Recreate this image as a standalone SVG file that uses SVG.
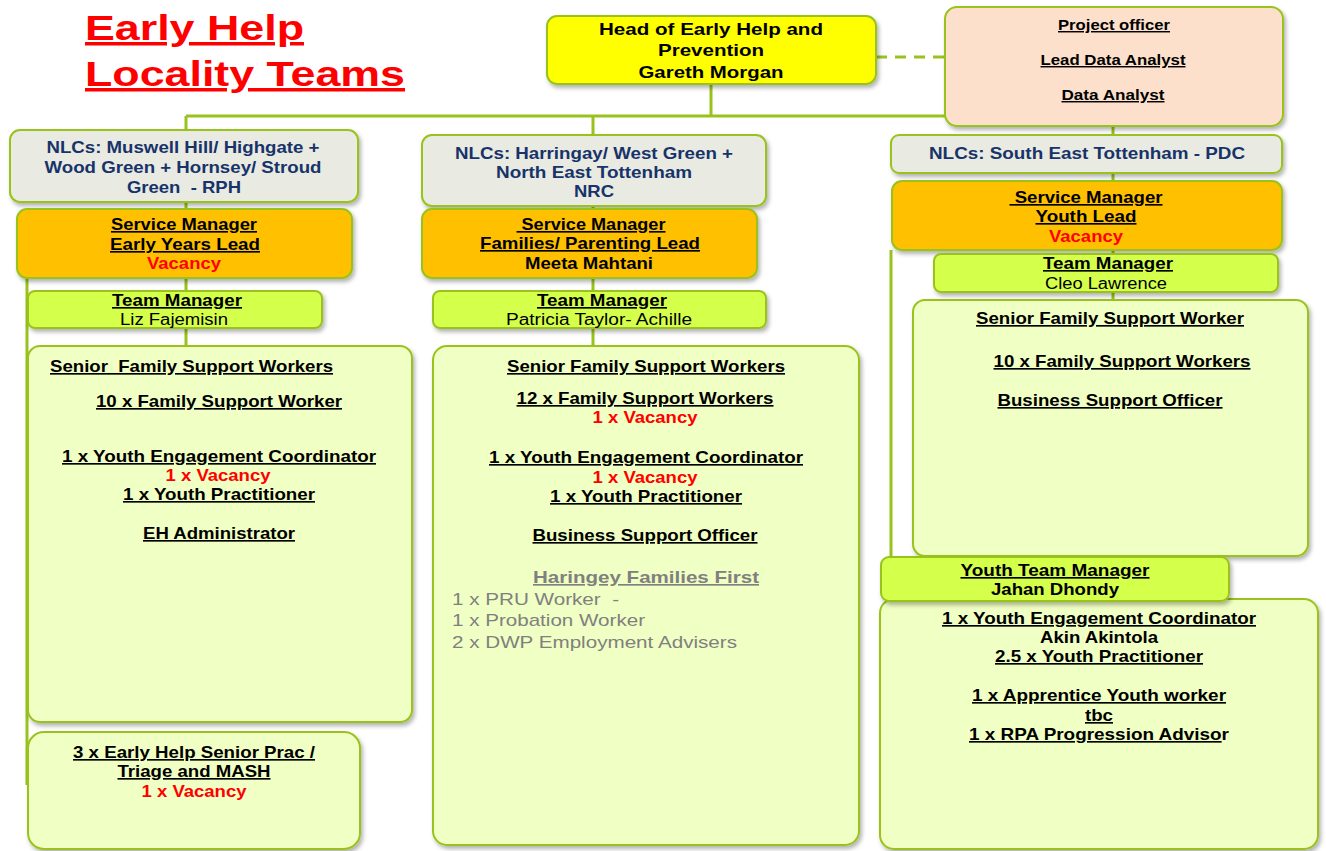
<svg xmlns="http://www.w3.org/2000/svg" width="1326" height="851" viewBox="0 0 1326 851">
<defs>
<filter id="sh" x="-10%" y="-10%" width="130%" height="140%">
<feDropShadow dx="2" dy="3" stdDeviation="2.2" flood-color="#000" flood-opacity="0.3"/>
</filter>
</defs>
<style>
text{font-family:"Liberation Sans",Arial,sans-serif;white-space:pre}
.b{font-weight:bold}
.m{text-anchor:middle}
.u{text-decoration:underline}
.t{text-decoration:underline;text-decoration-thickness:4px}
.k{fill:#000}
.r{fill:#ff0000}
.n{fill:#17336a}
.g{fill:#808080}
.f16{font-size:16.5px}
.f15{font-size:16px}
.f14{font-size:14.5px}
.box{stroke:#99c31c;stroke-width:2;filter:url(#sh)}
.head{fill:#ffff00}
.proj{fill:#fde0cb}
.nlc{fill:#e9eae1}
.sm{fill:#ffc000}
.tm{fill:#d4ff4c}
.big{fill:#f0ffc3}
.ln{stroke:#99c31c;stroke-width:3;fill:none}
.dash{stroke:#99c31c;stroke-width:3;fill:none;stroke-dasharray:11 8}
</style>
<rect width="1326" height="851" fill="#ffffff"/>

<g id="title">
<text x="85" y="40" class="b t r" font-size="35" textLength="219" lengthAdjust="spacingAndGlyphs">Early Help</text>
<text x="85" y="86" class="b t r" font-size="35" textLength="320" lengthAdjust="spacingAndGlyphs">Locality Teams</text>
</g>

<g id="connectors">
<path class="ln" d="M711 84V116M186 116H945M186 116V346M593 116V346M1113 126V300M27 278V785M891 250V557"/>
<path class="dash" d="M876 57H945"/>
</g>

<g id="head">
<rect class="box head" x="547" y="16" width="329" height="68" rx="10"/>
<text x="711" y="35" class="b m k f16" textLength="224" lengthAdjust="spacingAndGlyphs">Head of Early Help and</text>
<text x="711" y="56" class="b m k f16" textLength="106" lengthAdjust="spacingAndGlyphs">Prevention</text>
<text x="711" y="78" class="b m k f16" textLength="145" lengthAdjust="spacingAndGlyphs">Gareth Morgan</text>
</g>

<g id="project">
<rect class="box proj" x="945" y="7" width="338" height="119" rx="12"/>
<text x="1114" y="30" class="b m u k f14" textLength="112" lengthAdjust="spacingAndGlyphs">Project officer</text>
<text x="1113" y="65" class="b m u k f14" textLength="145" lengthAdjust="spacingAndGlyphs">Lead Data Analyst</text>
<text x="1113" y="100" class="b m u k f14" textLength="103" lengthAdjust="spacingAndGlyphs">Data Analyst</text>
</g>

<!-- Left column -->
<g id="nlc-left">
<rect class="box nlc" x="10" y="130" width="348" height="72" rx="10"/>
<text x="183" y="153" class="b m n f16" textLength="273" lengthAdjust="spacingAndGlyphs">NLCs: Muswell Hill/ Highgate +</text>
<text x="183" y="173" class="b m n f16" textLength="277" lengthAdjust="spacingAndGlyphs">Wood Green + Hornsey/ Stroud</text>
<text x="184" y="193" class="b m n f16" textLength="114" lengthAdjust="spacingAndGlyphs">Green  - RPH</text>
</g>
<g id="sm-left">
<rect class="box sm" x="17" y="209" width="335" height="69" rx="10"/>
<text x="184" y="230" class="b m u k f16" textLength="146" lengthAdjust="spacingAndGlyphs">Service Manager</text>
<text x="185" y="250" class="b m u k f16" textLength="150" lengthAdjust="spacingAndGlyphs">Early Years Lead</text>
<text x="184" y="269" class="b m r f16" textLength="74" lengthAdjust="spacingAndGlyphs">Vacancy</text>
</g>
<g id="tm-left">
<rect class="box tm" x="28" y="291" width="294" height="37" rx="7"/>
<text x="177" y="306" class="b m u k f16" textLength="130" lengthAdjust="spacingAndGlyphs">Team Manager</text>
<text x="174" y="325" class="m k f15" textLength="108" lengthAdjust="spacingAndGlyphs">Liz Fajemisin</text>
</g>
<g id="staff-left">
<rect class="box big" x="28" y="346" width="384" height="376" rx="12"/>
<text x="50" y="372" class="b u k f16" textLength="283" lengthAdjust="spacingAndGlyphs">Senior  Family Support Workers</text>
<text x="219" y="407" class="b m u k f16" textLength="246" lengthAdjust="spacingAndGlyphs">10 x Family Support Worker</text>
<text x="219" y="462" class="b m u k f16" textLength="314" lengthAdjust="spacingAndGlyphs">1 x Youth Engagement Coordinator</text>
<text x="218" y="481" class="b m r f16" textLength="105" lengthAdjust="spacingAndGlyphs">1 x Vacancy</text>
<text x="219" y="500" class="b m u k f16" textLength="192" lengthAdjust="spacingAndGlyphs">1 x Youth Practitioner</text>
<text x="219" y="539" class="b m u k f16" textLength="152" lengthAdjust="spacingAndGlyphs">EH Administrator</text>
</g>
<g id="senior-prac-left">
<rect class="box big" x="28" y="732" width="332" height="117" rx="16"/>
<text x="194" y="758" class="b m u k f16" textLength="242" lengthAdjust="spacingAndGlyphs">3 x Early Help Senior Prac /</text>
<text x="194" y="777" class="b m u k f16" textLength="153" lengthAdjust="spacingAndGlyphs">Triage and MASH</text>
<text x="194" y="797" class="b m r f16" textLength="105" lengthAdjust="spacingAndGlyphs">1 x Vacancy</text>
</g>

<!-- Middle column -->
<g id="nlc-middle">
<rect class="box nlc" x="422" y="135" width="344" height="71" rx="10"/>
<text x="594" y="159" class="b m n f16" textLength="278" lengthAdjust="spacingAndGlyphs">NLCs: Harringay/ West Green +</text>
<text x="594" y="178" class="b m n f16" textLength="196" lengthAdjust="spacingAndGlyphs">North East Tottenham</text>
<text x="594" y="197" class="b m n f16" textLength="40" lengthAdjust="spacingAndGlyphs">NRC</text>
</g>
<g id="sm-middle">
<rect class="box sm" x="422" y="209" width="335" height="69" rx="10"/>
<text x="591" y="230" class="b m u k f16" textLength="149" lengthAdjust="spacingAndGlyphs"> Service Manager</text>
<text x="590" y="249" class="b m u k f16" textLength="220" lengthAdjust="spacingAndGlyphs">Families/ Parenting Lead</text>
<text x="589" y="269" class="b m k f16" textLength="128" lengthAdjust="spacingAndGlyphs">Meeta Mahtani</text>
</g>
<g id="tm-middle">
<rect class="box tm" x="433" y="291" width="333" height="37" rx="7"/>
<text x="602" y="306" class="b m u k f16" textLength="130" lengthAdjust="spacingAndGlyphs">Team Manager</text>
<text x="599" y="325" class="m k f15" textLength="186" lengthAdjust="spacingAndGlyphs">Patricia Taylor- Achille</text>
</g>
<g id="staff-middle">
<rect class="box big" x="433" y="346" width="426" height="499" rx="14"/>
<text x="646" y="372" class="b m u k f16" textLength="278" lengthAdjust="spacingAndGlyphs">Senior Family Support Workers</text>
<text x="645" y="404" class="b m u k f16" textLength="257" lengthAdjust="spacingAndGlyphs">12 x Family Support Workers</text>
<text x="645" y="423" class="b m r f16" textLength="105" lengthAdjust="spacingAndGlyphs">1 x Vacancy</text>
<text x="646" y="463" class="b m u k f16" textLength="314" lengthAdjust="spacingAndGlyphs">1 x Youth Engagement Coordinator</text>
<text x="645" y="483" class="b m r f16" textLength="105" lengthAdjust="spacingAndGlyphs">1 x Vacancy</text>
<text x="646" y="502" class="b m u k f16" textLength="192" lengthAdjust="spacingAndGlyphs">1 x Youth Practitioner</text>
<text x="645" y="541" class="b m u k f16" textLength="225" lengthAdjust="spacingAndGlyphs">Business Support Officer</text>
<text x="646" y="583" class="b m u g f16" textLength="226" lengthAdjust="spacingAndGlyphs">Haringey Families First</text>
<text x="452" y="605" class="g" font-size="17" textLength="167" lengthAdjust="spacingAndGlyphs">1 x PRU Worker  -</text>
<text x="452" y="626" class="g" font-size="17" textLength="193" lengthAdjust="spacingAndGlyphs">1 x Probation Worker</text>
<text x="452" y="648" class="g" font-size="17" textLength="285" lengthAdjust="spacingAndGlyphs">2 x DWP Employment Advisers</text>
</g>

<!-- Right column -->
<g id="nlc-right">
<rect class="box nlc" x="891" y="135" width="391" height="38" rx="8"/>
<text x="1087" y="159" class="b m n f16" textLength="316" lengthAdjust="spacingAndGlyphs">NLCs: South East Tottenham - PDC</text>
</g>
<g id="sm-right">
<rect class="box sm" x="892" y="181" width="390" height="69" rx="10"/>
<text x="1086" y="203" class="b m u k f16" textLength="153" lengthAdjust="spacingAndGlyphs"> Service Manager</text>
<text x="1086" y="222" class="b m u k f16" textLength="101" lengthAdjust="spacingAndGlyphs">Youth Lead</text>
<text x="1086" y="242" class="b m r f16" textLength="74" lengthAdjust="spacingAndGlyphs">Vacancy</text>
</g>
<g id="tm-right">
<rect class="box tm" x="934" y="254" width="344" height="38" rx="7"/>
<text x="1108" y="269" class="b m u k f16" textLength="130" lengthAdjust="spacingAndGlyphs">Team Manager</text>
<text x="1106" y="289" class="m k f15" textLength="122" lengthAdjust="spacingAndGlyphs">Cleo Lawrence</text>
</g>
<g id="staff-right">
<rect class="box big" x="913" y="300" width="395" height="256" rx="12"/>
<text x="1110" y="324" class="b m u k f16" textLength="268" lengthAdjust="spacingAndGlyphs">Senior Family Support Worker</text>
<text x="1122" y="367" class="b m u k f16" textLength="257" lengthAdjust="spacingAndGlyphs">10 x Family Support Workers</text>
<text x="1110" y="406" class="b m u k f16" textLength="225" lengthAdjust="spacingAndGlyphs">Business Support Officer</text>
</g>
<g id="youth-staff-right">
<rect class="box big" x="880" y="599" width="438" height="250" rx="14"/>
<text x="1099" y="624" class="b m u k f16" textLength="314" lengthAdjust="spacingAndGlyphs">1 x Youth Engagement Coordinator</text>
<text x="1099" y="643" class="b m k f16" textLength="118" lengthAdjust="spacingAndGlyphs">Akin Akintola</text>
<text x="1099" y="662" class="b m u k f16" textLength="208" lengthAdjust="spacingAndGlyphs">2.5 x Youth Practitioner</text>
<text x="1099" y="701" class="b m u k f16" textLength="254" lengthAdjust="spacingAndGlyphs">1 x Apprentice Youth worker</text>
<text x="1099" y="721" class="b m u k f16" textLength="28" lengthAdjust="spacingAndGlyphs">tbc</text>
<text x="1099" y="740" class="b m k f16" textLength="260" lengthAdjust="spacingAndGlyphs"><tspan class="u">1 x RPA Progression Adviso</tspan>r</text>
</g>
<g id="youth-tm-right">
<rect class="box tm" x="881" y="557" width="348" height="44" rx="8"/>
<text x="1055" y="576" class="b m u k f16" textLength="189" lengthAdjust="spacingAndGlyphs">Youth Team Manager</text>
<text x="1055" y="595" class="b m k f16" textLength="128" lengthAdjust="spacingAndGlyphs">Jahan Dhondy</text>
</g>
</svg>
